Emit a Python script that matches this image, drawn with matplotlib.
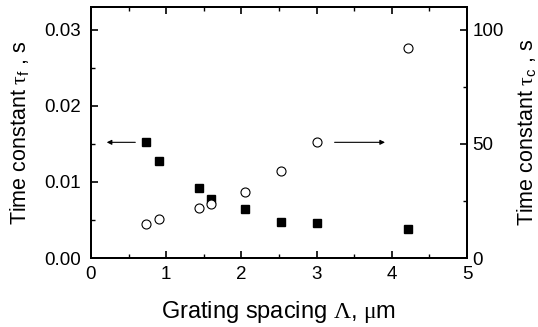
import matplotlib

matplotlib.use("Agg")

import matplotlib.pyplot as plt
from matplotlib.ticker import MultipleLocator

plt.rcParams["font.family"] = ["Liberation Sans", "DejaVu Sans"]
plt.rcParams["mathtext.fontset"] = "custom"
plt.rcParams["mathtext.rm"] = "Liberation Serif"
plt.rcParams["mathtext.it"] = "Liberation Serif:italic"
plt.rcParams["mathtext.sf"] = "Liberation Sans"

# grating spacing (um)
spacing = [0.73, 0.90, 1.44, 1.60, 2.05, 2.53, 3.01, 4.21]
# fast time constant tau_f (s), left axis
tau_f = [0.0152, 0.0128, 0.0092, 0.0077, 0.0064, 0.0047, 0.0046, 0.0038]
# slow time constant tau_c (s), right axis
tau_c = [14.7, 16.9, 21.9, 23.8, 28.9, 37.9, 51.0, 92.0]

fig = plt.figure(figsize=(5.38, 3.27), dpi=100)
ax = fig.add_axes([0.169, 0.211, 0.699, 0.768])
ax2 = ax.twinx()

ax.plot(spacing, tau_f, linestyle="none", marker="s", markersize=6,
        color="black", zorder=3)
ax2.plot(spacing, tau_c, linestyle="none", marker="o", markersize=6.5,
         markerfacecolor="white", markeredgecolor="black", markeredgewidth=0.8)

ax.set_xlim(0, 5)
ax.set_ylim(0, 0.033)
ax2.set_ylim(0, 110)

ax.xaxis.set_major_locator(MultipleLocator(1))
ax.xaxis.set_minor_locator(MultipleLocator(0.5))
ax.yaxis.set_major_locator(MultipleLocator(0.01))
ax.yaxis.set_minor_locator(MultipleLocator(0.005))
ax.yaxis.set_major_formatter(lambda v, p: f"{v:.2f}")
ax2.yaxis.set_major_locator(MultipleLocator(50))
ax2.yaxis.set_minor_locator(MultipleLocator(25))

ax.tick_params(axis="x", which="both", direction="in", top=True, labelsize=13.5)
ax.tick_params(axis="y", which="both", direction="in", labelsize=13.5)
ax2.tick_params(axis="y", which="both", direction="in", labelsize=13.5)
for a in (ax, ax2):
    a.tick_params(which="major", length=5, width=1.2)
    a.tick_params(which="minor", length=3, width=1.0)
    for s in a.spines.values():
        s.set_linewidth(1.4)
ax.tick_params(axis="x", which="major", pad=6)
ax.tick_params(axis="y", which="major", pad=7)
ax2.tick_params(axis="y", which="major", pad=4)

# arrows pointing to the matching axis
ax.annotate("", xy=(0.21, 0.0152), xytext=(0.59, 0.0152),
            arrowprops=dict(arrowstyle="-|>", color="black", lw=0.8,
                            mutation_scale=7, shrinkA=0, shrinkB=0))
ax.annotate("", xy=(3.91, 0.0152), xytext=(3.24, 0.0152),
            arrowprops=dict(arrowstyle="-|>", color="black", lw=0.8,
                            mutation_scale=7, shrinkA=0, shrinkB=0))

ax.set_xlabel(r"Grating spacing $\mathrm{\Lambda}$, $\mathrm{\mu}$m", fontsize=17, labelpad=11)
ax.set_ylabel(r"Time constant $\mathrm{\tau}_{\mathsf{f}}$ , s", fontsize=15.5, labelpad=10)
ax2.set_ylabel(r"Time constant $\mathrm{\tau}_{\mathsf{c}}$ , s", fontsize=15.5, labelpad=8)

fig.savefig("out.png", dpi=100)
